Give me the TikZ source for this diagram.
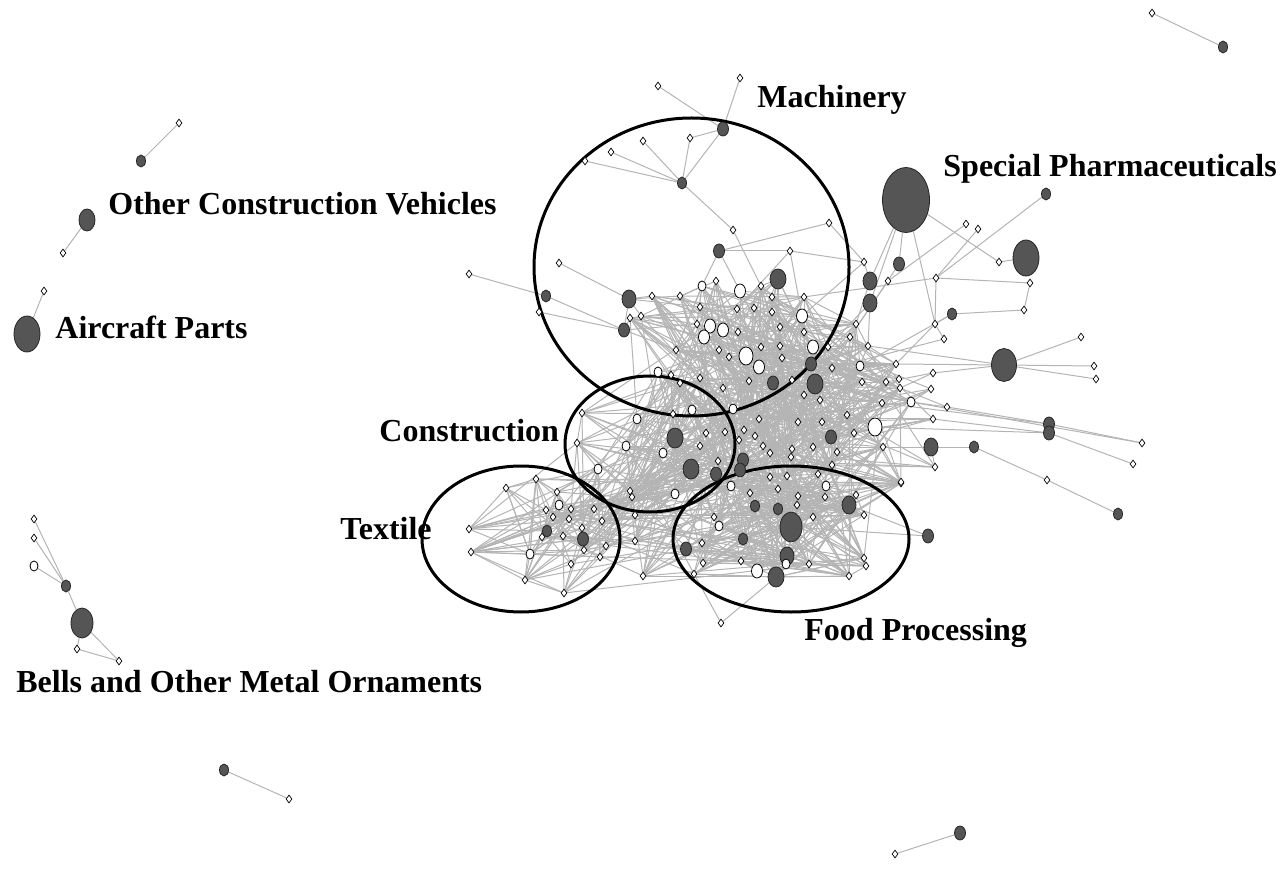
\documentclass[tikz,border=0pt]{standalone}
\usepackage{fontspec}
\setmainfont{Liberation Serif}
\usepackage{tikz}
\usetikzlibrary{shapes.geometric}
\usetikzlibrary{backgrounds}
\definecolor{hubgray}{HTML}{555555}
\definecolor{linkgray}{HTML}{B4B4B4}
\tikzset{
    dm/.style={diamond, draw=black, fill=white, inner sep=0pt,
        minimum width=3pt, minimum height=4pt, line width=0.35pt},
    wt/.style 2 args={ellipse, draw=black, fill=white, inner sep=0pt,
        minimum width=#1*0.5pt, minimum height=#2*0.5pt, line width=0.4pt},
    hub/.style 2 args={ellipse, draw=black!85, fill=hubgray, inner sep=0pt,
        minimum width=#1*0.5pt, minimum height=#2*0.5pt, line width=0.4pt},
    ws/.style={wt={8}{10}},
    wm/.style={wt={11}{14}},
    wl/.style={wt={14}{18}},
    ks/.style={hub={9}{12}},
    km/.style={hub={11}{14}},
    kl/.style={hub={14}{18}},
    kx/.style={hub={16}{20}},
    kh/.style={hub={22}{30}},
    link/.style={draw=linkgray, line width=0.5pt},
    ring/.style={draw=black, line width=1.5pt},
    lab/.style={font=\bfseries\fontsize{16}{19}\selectfont, inner sep=0pt, anchor=base west}
}
\begin{document}
\begin{tikzpicture}[x={(0.5pt,0)}, y={(0,-0.5pt)}]
\useasboundingbox (0,0) rectangle (1283,892);
\pgfmathsetseed{4711}

% textile cluster
\foreach \i/\x/\y/\t in {1/506/488/dm, 2/536/479/dm, 3/469/529/dm, 4/471/552/dm,
    5/525/580/dm, 6/564/593/dm, 7/557/492/dm, 8/559/505/ws, 9/546/510/dm,
    10/553/517/dm, 11/571/509/dm, 12/569/519/dm, 13/594/509/dm, 14/602/521/dm,
    15/582/528/dm, 16/563/536/dm, 17/584/550/dm, 18/600/557/dm, 19/606/546/dm,
    20/571/564/dm, 21/530/554/ws, 22/542/537/dm, 23/547/531/ks, 24/583/539/km,
    25/598/469/ws}
  \node[\t] (t\i) at (\x,\y) {};

% construction cluster
\foreach \i/\x/\y/\t in {1/577/443/dm, 2/582/413/dm, 3/637/419/ws, 4/626/446/ws,
    5/663/453/ws, 6/675/438/kx, 7/691/469/kx, 8/716/474/km, 9/675/494/ws,
    10/630/491/dm, 11/632/497/dm, 12/635/515/dm, 13/635/541/dm, 14/643/576/dm,
    15/692/410/ws, 16/673/414/dm, 17/706/433/dm, 18/725/432/dm, 19/700/446/dm,
    20/718/461/dm, 21/658/372/ws, 22/671/375/dm, 23/680/383/dm, 24/700/378/dm,
    25/733/409/ws}
  \node[\t] (s\i) at (\x,\y) {};

% central and machinery core
\foreach \i/\x/\y/\t in {1/652/296/dm, 2/680/296/dm, 3/702/286/ws, 4/716/281/dm,
    5/740/291/wm, 6/761/286/dm, 7/772/297/dm, 8/804/297/dm, 9/778/279/kx,
    10/630/318/dm, 11/641/316/dm, 12/700/307/dm, 13/737/309/dm, 14/754/308/dm,
    15/772/312/dm, 16/802/316/wm, 17/697/324/dm, 18/710/326/wm, 19/723/330/wm,
    20/704/337/wm, 21/738/332/dm, 22/780/327/dm, 23/804/332/dm, 24/676/350/dm,
    25/719/350/dm, 26/729/357/dm, 27/746/356/wl, 28/759/367/wm, 29/761/347/dm,
    30/782/358/dm, 31/780/346/dm, 32/813/347/wm, 33/811/364/km, 34/815/384/kx,
    35/773/383/km, 36/723/388/dm, 37/749/381/dm, 38/792/380/dm, 39/804/395/dm,
    40/828/347/dm, 41/832/368/dm, 42/860/366/ws, 43/862/382/dm, 44/856/324/dm,
    45/850/337/dm, 46/868/346/dm, 47/886/382/dm, 48/896/364/dm, 49/882/403/dm,
    50/798/422/dm, 51/822/422/dm, 52/847/415/dm, 53/875/427/wl, 54/831/437/km,
    55/739/440/dm, 56/763/446/dm, 57/744/430/dm, 58/755/436/dm, 59/770/453/dm,
    60/792/449/dm, 61/813/447/dm, 62/837/452/dm, 63/854/433/dm, 64/883/447/dm,
    65/743/460/km, 66/740/470/km, 67/791/457/dm, 68/832/465/dm, 69/818/474/dm,
    70/787/476/dm, 71/911/402/ws, 72/900/388/dm, 73/820/400/dm, 74/759/419/dm,
    75/629/299/kl, 76/624/330/km, 77/719/251/km, 78/790/251/dm, 79/733/230/dm,
    80/870/281/kl, 81/870/303/kl, 82/888/281/dm, 83/864/262/dm, 84/899/264/km,
    85/935/324/dm, 86/944/339/dm, 87/936/278/dm, 88/952/314/ks}
  \node[\t] (c\i) at (\x,\y) {};

% food processing cluster
\foreach \i/\x/\y/\t in {1/791/527/kh, 2/787/556/kl, 3/776/577/kx, 4/849/505/kl,
    5/778/509/ks, 6/755/506/ks, 7/743/539/ks, 8/686/549/km, 9/757/571/wm,
    10/786/564/ws, 11/778/489/dm, 12/770/477/dm, 13/798/496/dm, 14/797/505/dm,
    15/813/517/dm, 16/825/497/dm, 17/826/486/ws, 18/750/493/dm, 19/731/486/ws,
    20/714/517/dm, 21/719/526/ws, 22/702/543/dm, 23/703/563/dm, 24/694/574/dm,
    25/741/561/dm, 26/809/564/dm, 27/849/576/dm, 28/864/558/dm, 29/866/566/dm,
    30/864/515/dm, 31/856/495/dm, 32/901/483/dm, 33/721/623/dm, 34/928/536/km}
  \node[\t] (f\i) at (\x,\y) {};

% machinery top
\foreach \i/\x/\y/\t in {1/658/86/dm, 2/740/78/dm, 3/723/129/km, 4/690/138/dm,
    5/643/141/dm, 6/611/152/dm, 7/585/161/dm, 8/682/183/ks, 9/829/223/dm,
    10/559/263/dm, 11/546/296/ks, 12/539/312/dm, 13/469/274/dm}
  \node[\t] (m\i) at (\x,\y) {};

% right side
\node[hub={47}{65}] (r1) at (906,200) {};
\node[hub={26}{36}] (r6) at (1026,258) {};
\node[hub={25}{33}] (r9) at (1004,365) {};
\foreach \i/\x/\y/\t in {2/1046/194/ks, 3/966/224/dm, 4/978/229/dm, 5/999/262/dm,
    7/1030/283/dm, 8/1024/310/dm, 10/1081/337/dm, 11/1094/366/dm, 12/1096/379/dm,
    13/1049/424/km, 14/1049/433/km, 15/1142/443/dm, 16/1133/464/dm, 17/931/447/kl,
    18/974/447/ks, 19/1047/480/dm, 20/1118/514/ks, 21/935/467/dm, 22/901/482/dm,
    23/899/379/dm, 24/933/373/dm, 25/931/389/dm, 26/933/419/dm, 27/947/407/dm}
  \node[\t] (r\i) at (\x,\y) {};

% small components
\node[dm] (i1) at (1152,13) {};
\node[ks] (i2) at (1223,47) {};
\node[dm] (i3) at (179,123) {};
\node[ks] (i4) at (141,161) {};
\node[hub={16}{22}] (i5) at (87,220) {};
\node[dm] (i6) at (63,253) {};
\node[dm] (i7) at (44,291) {};
\node[hub={26}{36}] (i8) at (27,334) {};
\node[ks] (i9) at (224,770) {};
\node[dm] (i10) at (289,799) {};
\node[km] (i11) at (960,833) {};
\node[dm] (i12) at (895,854) {};
\node[dm] (b1) at (34,519) {};
\node[dm] (b2) at (34,538) {};
\node[ws] (b3) at (34,566) {};
\node[ks] (b4) at (66,586) {};
\node[kh] (b5) at (82,623) {};
\node[dm] (b6) at (77,649) {};
\node[dm] (b7) at (119,661) {};

% labels
\node[lab] (lmach) at (757,108) {Machinery};
\node[lab] (lpharm) at (943,177) {Special Pharmaceuticals};
\node[lab] (lvehic) at (108,215) {Other Construction Vehicles};
\node[lab] (lair) at (55,339) {Aircraft Parts};
\node[lab] (lcons) at (379,442) {Construction};
\node[lab] (ltex) at (340,539) {Textile};
\node[lab] (lfood) at (804,640) {Food Processing};
\node[lab] (lbells) at (16,692) {Bells and Other Metal Ornaments};

\begin{pgfonlayer}{background}
% fixed links
\foreach \a/\b in {m1/m3, m2/m3, m4/m3, m4/m8, m3/m8, m5/m8, m6/m8, m7/m8,
    m8/c79, c79/c6, m9/c77, m9/c83, c77/c78, c78/c83, c77/c3, c77/c5, c78/c16,
    c78/c13, m10/c75, m13/m11, m11/c76, m12/c76, c75/c76, c75/c1, c75/c11,
    c75/c12, c76/c10, c76/c17, c76/c24, c75/c2,
    r1/c80, r1/c81, r1/c84, r1/r5, r5/r6, r1/c85, r2/c87, r3/c82, r4/c87,
    c87/r7, r7/r8, r8/c88, c88/c85, c85/c87, c86/c85, c80/c83, c80/c44,
    c81/c46, c81/c40, c84/c45, c82/c45, c83/c16, c85/c48, c86/c41, c87/c8,
    c88/c42, r9/r10, r9/r11, r9/r12, r9/c48, r9/c46, r27/r13, r13/r15,
    r14/r16, r13/c49, r14/r26, r14/c53, r15/c71, r17/r18, r18/r19, r19/r20,
    r17/c64, r17/r21, r21/c68, r22/f4, r22/c62, r23/c41, r24/c47, r25/c71,
    r26/c63, r24/r9, r27/c71, f33/f3, f33/f24, f34/f4, f34/f1,
    i1/i2, i3/i4, i5/i6, i7/i8, b1/b4, b2/b4, b3/b4, b4/b5, b5/b6, b5/b7,
    b6/b7, i9/i10, i11/i12}
  \draw[link] (\a) -- (\b);

% dense links inside the clusters
\foreach \j in {1,...,100}{
  \pgfmathtruncatemacro\a{random(1,25)}
  \pgfmathtruncatemacro\b{mod(\a+random(1,24)-1,25)+1}
  \draw[link] (t\a) -- (t\b);
}
\foreach \j in {1,...,80}{
  \pgfmathtruncatemacro\a{random(1,25)}
  \pgfmathtruncatemacro\b{mod(\a+random(1,24)-1,25)+1}
  \draw[link] (s\a) -- (s\b);
}
\foreach \j in {1,...,320}{
  \pgfmathtruncatemacro\a{random(1,74)}
  \pgfmathtruncatemacro\b{mod(\a+random(1,73)-1,74)+1}
  \draw[link] (c\a) -- (c\b);
}
\foreach \j in {1,...,160}{
  \pgfmathtruncatemacro\a{random(1,32)}
  \pgfmathtruncatemacro\b{mod(\a+random(1,31)-1,32)+1}
  \draw[link] (f\a) -- (f\b);
}
% links between the clusters
\foreach \p/\q/\np/\nq/\n in {t/s/25/25/50, s/c/25/74/80, s/f/25/32/60,
    c/f/74/32/90, t/f/25/32/25, t/c/25/74/10}{
  \foreach \j in {1,...,\n}{
    \pgfmathtruncatemacro\a{random(1,\np)}
    \pgfmathtruncatemacro\b{random(1,\nq)}
    \draw[link] (\p\a) -- (\q\b);
  }
}
\foreach \j in {1,...,30}{
  \pgfmathtruncatemacro\a{random(40,74)}
  \pgfmathtruncatemacro\b{random(21,27)}
  \draw[link] (c\a) -- (r\b);
}

% cluster rings
\draw[ring] (691.5,267) ellipse [x radius=157.5, y radius=149];
\draw[ring] (650,444) ellipse [x radius=85, y radius=68];
\draw[ring] (521,539) ellipse [x radius=99, y radius=73];
\draw[ring] (791,539) ellipse [x radius=118, y radius=73];
\end{pgfonlayer}
\end{tikzpicture}
\end{document}
